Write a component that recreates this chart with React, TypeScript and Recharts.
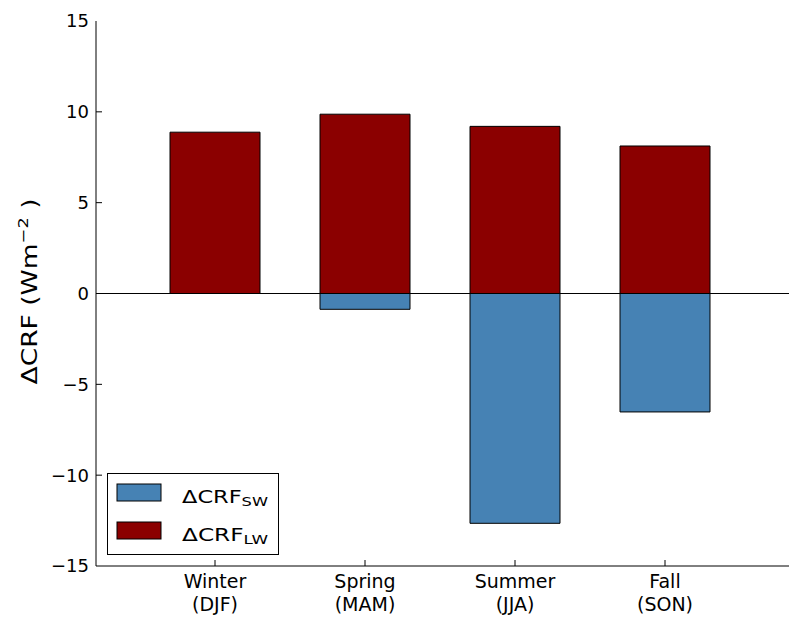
import React from 'react';
import { BarChart, Bar, XAxis, YAxis, ReferenceLine, Legend } from 'recharts';

const seasons = ['Winter', 'Spring', 'Summer', 'Fall'];
const months = ['(DJF)', '(MAM)', '(JJA)', '(SON)'];
const crfLW = [8.88, 9.87, 9.2, 8.12];
const crfSW = [0, -0.87, -12.65, -6.52];
const yTicks = [-15, -10, -5, 0, 5, 10, 15];

const SW_COLOR = '#4682b4';
const LW_COLOR = '#8b0000';
const FONT = '"DejaVu Sans", sans-serif';

const data = seasons.map((season, i) => ({
  season,
  months: months[i],
  lw: crfLW[i],
  sw: crfSW[i],
}));

const fmt = (v: number) => (v < 0 ? `\u2212${Math.abs(v)}` : `${v}`);

const YTick = (props: any) => {
  const { x, y, payload } = props;
  const inner = payload.value !== 15 && payload.value !== -15;
  return (
    <g>
      {inner && <line x1={x} x2={x + 6} y1={y} y2={y} stroke="#000" strokeWidth={1} />}
      <text x={x - 7} y={y} dy="0.36em" textAnchor="end" fontSize={18} fontFamily={FONT} fill="#000">
        {fmt(payload.value)}
      </text>
    </g>
  );
};

const XTick = (props: any) => {
  const { x, y, payload, index } = props;
  return (
    <g>
      <line x1={x} x2={x} y1={y} y2={y - 6} stroke="#000" strokeWidth={1} />
      <text x={x} y={y + 22} textAnchor="middle" fontSize={19} fontFamily={FONT} fill="#000">
        {payload.value}
      </text>
      <text x={x} y={y + 45} textAnchor="middle" fontSize={19} fontFamily={FONT} fill="#000">
        {data[index] ? data[index].months : ''}
      </text>
    </g>
  );
};

const TopTick = (props: any) => {
  const { x, y } = props;
  return <line x1={x} x2={x} y1={y} y2={y + 6} stroke="#000" strokeWidth={1} />;
};

const YLabel = (props: any) => {
  const { viewBox } = props;
  const cx = viewBox.x + 29;
  const cy = viewBox.y + viewBox.height / 2 - 2;
  return (
    <text
      x={cx}
      y={cy}
      transform={`rotate(-90, ${cx}, ${cy})`}
      textAnchor="middle"
      fontSize={21}
      fontFamily={FONT}
      fill="#000"
      textLength={186}
      lengthAdjust="spacingAndGlyphs"
    >
      {'\u0394CRF (Wm'}
      <tspan dy={-9} fontSize={14}>{'\u22122'}</tspan>
      <tspan dy={9}>{' )'}</tspan>
    </text>
  );
};

const legendRows = [
  { color: SW_COLOR, sub: 'SW' },
  { color: LW_COLOR, sub: 'LW' },
];

const LegendBox = () => (
  <svg width={173} height={83}>
    <rect x={0.5} y={0.5} width={171} height={81} fill="#fff" stroke="#000" strokeWidth={1} />
    {legendRows.map((row, i) => {
      const top = i === 0 ? 11 : 49;
      return (
        <g key={row.sub}>
          <rect x={10} y={top} width={44} height={17} fill={row.color} stroke="#000" strokeWidth={1} />
          <text
            x={75}
            y={top + 19}
            fontSize={18}
            fontFamily={FONT}
            fill="#000"
            textLength={86}
            lengthAdjust="spacingAndGlyphs"
          >
            {'\u0394CRF'}
            <tspan dy={3} fontSize={13}>{row.sub}</tspan>
          </text>
        </g>
      );
    })}
  </svg>
);

export default function App() {
  // the axes run past the right edge, so the frame is clipped there;
  // the page margin is replaced by padding so nothing scrolls
  return (
    <>
      <style>{'html, body { margin: 0; overflow: hidden; }'}</style>
      <div
        style={{
          width: 789,
          height: 617,
          overflow: 'hidden',
          paddingLeft: 8,
          paddingTop: 8,
          boxSizing: 'border-box',
        }}
      >
        <BarChart
          width={800}
          height={609}
          data={data}
          stackOffset="sign"
          barSize={90}
          margin={{ top: 13, right: 0, bottom: 0, left: 0 }}
        >
          <XAxis
            xAxisId="bottom"
            dataKey="season"
            height={51}
            padding={{ left: 44, right: 68 }}
            axisLine={{ stroke: '#000', strokeWidth: 1 }}
            tickLine={false}
            tickSize={0}
            tickMargin={0}
            tick={<XTick />}
            interval={0}
          />
          <XAxis
            xAxisId="top"
            orientation="top"
            dataKey="season"
            height={0}
            padding={{ left: 44, right: 68 }}
            axisLine={{ stroke: '#000', strokeWidth: 1 }}
            tickLine={false}
            tickSize={0}
            tickMargin={0}
            tick={<TopTick />}
            interval={0}
          />
          <YAxis
            width={88}
            domain={[-15, 15]}
            ticks={yTicks}
            interval={0}
            axisLine={{ stroke: '#000', strokeWidth: 1 }}
            tickLine={false}
            tickSize={0}
            tickMargin={0}
            tick={<YTick />}
            label={{ content: (p: any) => <YLabel {...p} /> }}
          />
          <Legend
            layout="vertical"
            align="center"
            verticalAlign="middle"
            content={() => <LegendBox />}
            wrapperStyle={{ position: 'absolute', left: 99, top: 465, width: 173, height: 83 }}
          />
          <Bar
            xAxisId="bottom"
            dataKey="sw"
            stackId="crf"
            fill={SW_COLOR}
            stroke="#000"
            strokeWidth={1}
            isAnimationActive={false}
          />
          <Bar
            xAxisId="bottom"
            dataKey="lw"
            stackId="crf"
            fill={LW_COLOR}
            stroke="#000"
            strokeWidth={1}
            isAnimationActive={false}
          />
          <ReferenceLine xAxisId="bottom" y={0} stroke="#000" strokeWidth={1} />
        </BarChart>
      </div>
    </>
  );
}
